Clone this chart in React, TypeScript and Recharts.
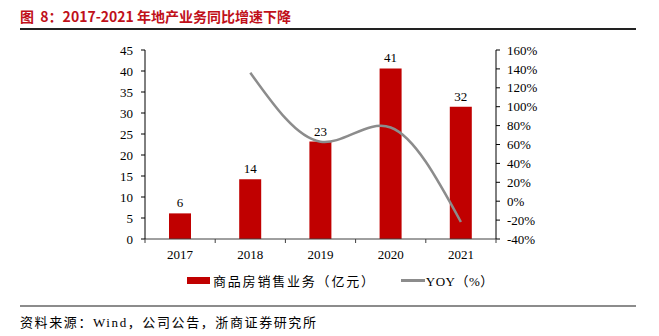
import { ComposedChart, Bar, Line, XAxis, YAxis, Legend, LabelList } from "recharts";

const years = ["2017", "2018", "2019", "2020", "2021"];
const sales = [6.1, 14.2, 23.2, 40.6, 31.5];
const yoy = [null, 136, 63, 78, -22];
const leftTicks = [0, 5, 10, 15, 20, 25, 30, 35, 40, 45];
const rightTicks = [-40, -20, 0, 20, 40, 60, 80, 100, 120, 140, 160];

const data = years.map((year, i) => ({ year, sales: sales[i], yoy: yoy[i] }));

const SERIF = '"Liberation Serif", "Noto Serif CJK SC", "Noto Sans CJK SC", serif';
const CJK = '"Liberation Serif", "Noto Sans CJK SC", serif';

const XTick = (props: any) => {
  const { x, y, payload, index, visibleTicksCount } = props;
  const half = payload.offset ?? 35;
  return (
    <g>
      <line x1={x - half} y1={y} x2={x - half} y2={y + 4} stroke="#404040" />
      {index === visibleTicksCount - 1 && (
        <line x1={x + half} y1={y} x2={x + half} y2={y + 4} stroke="#404040" />
      )}
      <text x={x} y={y} dy={20} textAnchor="middle" fontFamily={SERIF} fontSize={13} fill="#000">
        {payload.value}
      </text>
    </g>
  );
};

const renderLegend = () => (
  <div style={{ display: "flex", alignItems: "center", fontFamily: CJK, fontSize: 13, color: "#000", paddingLeft: 187 }}>
    <span style={{ display: "inline-block", width: 23, height: 7, background: "#c00000", marginRight: 3 }} />
    <span style={{ letterSpacing: 1.8 }}>商品房销售业务（亿元）</span>
    <span style={{ display: "inline-block", width: 24, height: 3, background: "#8c8c8c", marginLeft: 25, marginRight: 1 }} />
    <span style={{ letterSpacing: 0.5 }}>YOY（%）</span>
  </div>
);

export default function App() {
  return (
    <div style={{ position: "absolute", left: 0, top: 0, width: 659, height: 336, background: "#fff" }}>
      <div style={{ position: "absolute", left: 20, top: 6, fontFamily: '"Noto Sans CJK SC", sans-serif', fontWeight: 700, fontSize: 14, color: "#c0101a", whiteSpace: "pre" }}>
        {"图  8：2017-2021 年地产业务同比增速下降"}
      </div>
      <div style={{ position: "absolute", left: 20, top: 28, width: 616, height: 2, background: "#222" }} />
      <ComposedChart width={659} height={336} data={data} margin={{ top: 50, right: 113, left: 100, bottom: 67 }}>
        <XAxis
          dataKey="year"
          stroke="#404040"
          tickLine={false}
          tickSize={0}
          tickMargin={0}
          height={30}
          tick={<XTick />}
        />
        <YAxis
          yAxisId="left"
          domain={[0, 45]}
          ticks={leftTicks}
          width={45}
          stroke="#000"
          tickSize={4}
          tickMargin={8}
          tick={{ fontFamily: SERIF, fontSize: 13, fill: "#000" }}
          interval={0}
        />
        <YAxis
          yAxisId="right"
          orientation="right"
          domain={[-40, 160]}
          ticks={rightTicks}
          width={50}
          stroke="#000"
          tickSize={4}
          tickMargin={7}
          tickFormatter={(v: number) => `${v}%`}
          tick={{ fontFamily: SERIF, fontSize: 13, fill: "#000", textAnchor: "start" }}
          interval={0}
        />
        <Bar yAxisId="left" dataKey="sales" fill="#c00000" barSize={22} isAnimationActive={false}>
          <LabelList
            dataKey="sales"
            position="top"
            offset={6}
            formatter={(v: any) => Math.round(Number(v))}
            style={{ fontFamily: SERIF, fontSize: 13, fill: "#000" }}
          />
        </Bar>
        <Line
          yAxisId="right"
          dataKey="yoy"
          type="natural"
          stroke="#8c8c8c"
          strokeWidth={2.5}
          dot={false}
          connectNulls={false}
          isAnimationActive={false}
        />
        <Legend
          verticalAlign="middle"
          align="center"
          layout="horizontal"
          content={renderLegend}
          wrapperStyle={{ top: 271, left: 0, width: 659 }}
        />
      </ComposedChart>
      <div style={{ position: "absolute", left: 20, top: 305, width: 616, height: 2, background: "#8c8c8c" }} />
      <div style={{ position: "absolute", left: 20, top: 312, fontFamily: CJK, fontSize: 13, color: "#000", whiteSpace: "nowrap", letterSpacing: 1.6 }}>
        资料来源：Wind，公司公告，浙商证券研究所
      </div>
    </div>
  );
}
